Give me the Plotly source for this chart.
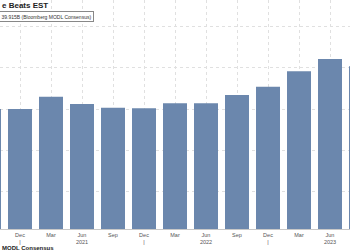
import plotly.graph_objects as go

quarters = ["Sep 2020", "Dec 2020", "Mar 2021", "Jun 2021", "Sep 2021", "Dec 2021",
            "Mar 2022", "Jun 2022", "Sep 2022", "Dec 2022", "Mar 2023", "Jun 2023", "Sep 2023"]
tick_labels = ["Sep", "Dec<br>|", "Mar", "Jun<br>2021", "Sep", "Dec<br>|",
               "Mar", "Jun<br>2022", "Sep", "Dec<br>|", "Mar", "Jun<br>2023", "Sep"]
revenue = [35.0, 35.0, 36.5, 35.6, 35.15, 35.1, 35.7, 35.7, 36.7, 37.7, 39.6, 41.1, 40.2]
grid_values = [25, 30, 35, 40, 45]

fig = go.Figure(go.Bar(
    x=quarters, y=revenue,
    marker=dict(color="#6b87ad", line=dict(width=0)),
))

fig.update_layout(
    width=350, height=250,
    margin=dict(l=0, r=0, t=0, b=21),
    paper_bgcolor="white", plot_bgcolor="white",
    bargap=0.226, showlegend=False,
    xaxis=dict(
        type="category", range=[0.355, 11.645],
        tickvals=quarters, ticktext=tick_labels,
        tickfont=dict(family="Liberation Sans", size=5.5, color="#555"),
        showgrid=True, gridcolor="#e0e0e0", griddash="dot", gridwidth=1,
        ticks="", ticklen=0, showline=True, linecolor="#c8c8c8", linewidth=1,
        fixedrange=True,
    ),
    yaxis=dict(
        range=[20.37, 48.29], tickvals=grid_values, showticklabels=False,
        showgrid=True, gridcolor="#e0e0e0", griddash="dot", gridwidth=1,
        zeroline=False, fixedrange=True,
    ),
    annotations=[
        dict(text="<b>e Beats EST</b>", xref="paper", yref="paper", x=0, y=1.0,
             xanchor="left", yanchor="top", yshift=1, showarrow=False,
             font=dict(family="Liberation Sans", size=8, color="#222")),
        dict(text="39.915B (Bloomberg MODL Consensus)", xref="paper", yref="paper",
             x=0, y=1.0, xanchor="left", yanchor="top", yshift=-11, xshift=-1,
             showarrow=False, bgcolor="white", bordercolor="#888", borderwidth=1,
             borderpad=1.5,
             font=dict(family="Liberation Sans", size=5, color="#333")),
        dict(text="<b>MODL Consensus</b>", xref="paper", yref="paper", x=0, y=0,
             xanchor="left", yanchor="middle", yshift=-19, showarrow=False,
             font=dict(family="Liberation Sans", size=6, color="#222")),
    ],
)

fig.write_html("out.html")
